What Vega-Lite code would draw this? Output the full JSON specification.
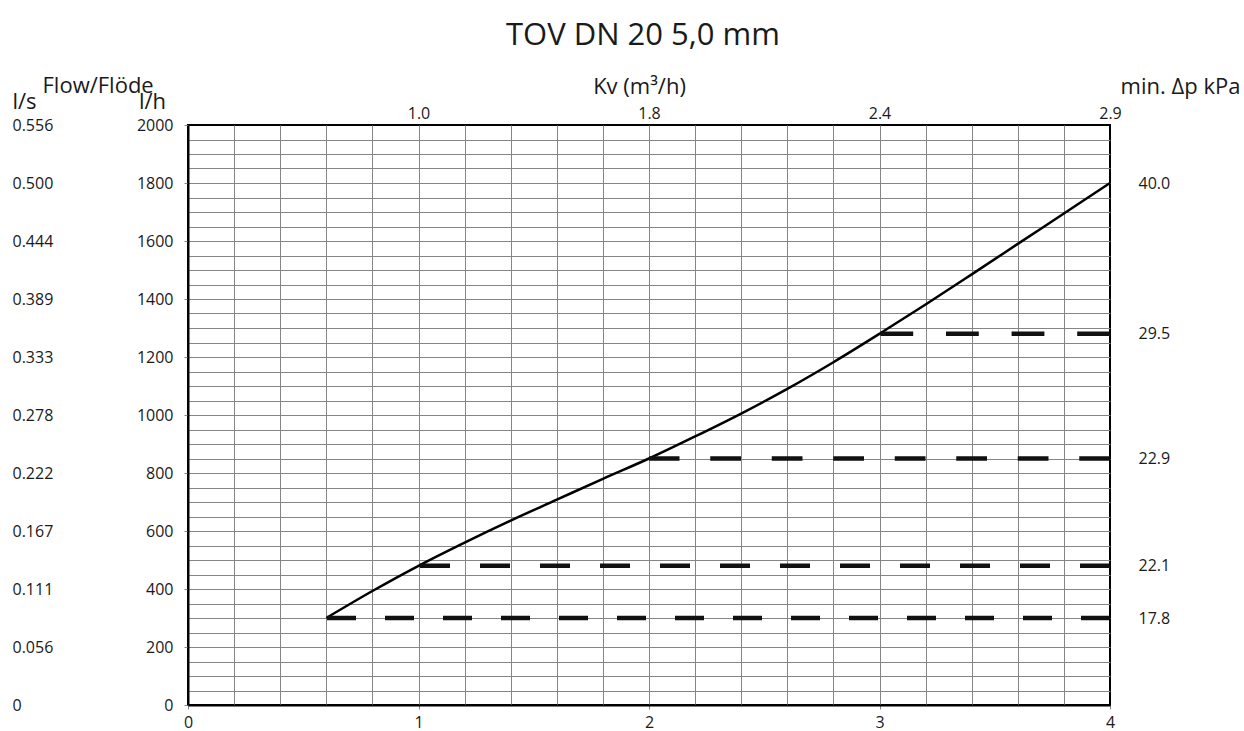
{
  "$schema": "https://vega.github.io/schema/vega-lite/v6.json",
  "width": 922,
  "height": 580,
  "autosize": {"type": "none"},
  "padding": {"left": 188, "top": 125, "right": 134, "bottom": 26},
  "background": "white",
  "title": {"text": "TOV DN 20 5,0 mm", "fontSize": 31, "font": "Open Sans", "fontWeight": "normal", "color": "#1a1a1a", "anchor": "middle", "dx": -6, "offset": 22},
  "datasets": {
    "curve": [
      {"q": 0.6, "flow": 300},
      {"q": 0.8, "flow": 393},
      {"q": 1.0, "flow": 480},
      {"q": 1.2, "flow": 560},
      {"q": 1.4, "flow": 636},
      {"q": 1.6, "flow": 708},
      {"q": 1.8, "flow": 780},
      {"q": 2.0, "flow": 850},
      {"q": 2.2, "flow": 926},
      {"q": 2.4, "flow": 1005},
      {"q": 2.6, "flow": 1090},
      {"q": 2.8, "flow": 1182},
      {"q": 3.0, "flow": 1280},
      {"q": 3.2, "flow": 1381},
      {"q": 3.4, "flow": 1485},
      {"q": 3.6, "flow": 1590},
      {"q": 3.8, "flow": 1695},
      {"q": 4.0, "flow": 1800}
    ],
    "dash": [
      {"flow": 300, "from": 0.6, "to": 4, "dp": 17.8},
      {"flow": 480, "from": 1.0, "to": 4, "dp": 22.1},
      {"flow": 850, "from": 2.0, "to": 4, "dp": 22.9},
      {"flow": 1280, "from": 3.0, "to": 4, "dp": 29.5}
    ]
  },
  "config": {
    "view": {"stroke": "#000000", "strokeWidth": 2},
    "axis": {
      "labelFont": "Open Sans",
      "labelFontSize": 16,
      "labelColor": "#1a1a1a",
      "titleFont": "Open Sans",
      "titleFontSize": 22,
      "titleFontWeight": "normal",
      "titleColor": "#1a1a1a",
      "labelOverlap": false,
      "labelFlush": false,
      "gridColor": "#858585",
      "gridWidth": 1,
      "gridOpacity": 1
    }
  },
  "layer": [
    {
      "data": {"name": "curve"},
      "mark": {"type": "point", "opacity": 0},
      "encoding": {
        "x": {"field": "q", "type": "quantitative", "scale": {"domain": [0, 4], "nice": false, "zero": false},
          "axis": {"orient": "bottom", "values": [0.2, 0.4, 0.6, 0.8, 1, 1.2, 1.4, 1.6, 1.8, 2, 2.2, 2.4, 2.6, 2.8, 3, 3.2, 3.4, 3.6, 3.8], "grid": true, "labels": false, "ticks": false, "tickSize": 0, "domain": false, "title": null}},
        "y": {"field": "flow", "type": "quantitative", "scale": {"domain": [0, 2000], "nice": false},
          "axis": {"orient": "left", "values": [50, 100, 150, 200, 250, 300, 350, 400, 450, 500, 550, 600, 650, 700, 750, 800, 850, 900, 950, 1000, 1050, 1100, 1150, 1200, 1250, 1300, 1350, 1400, 1450, 1500, 1550, 1600, 1650, 1700, 1750, 1800, 1850, 1900, 1950], "grid": true, "labels": false, "ticks": false, "tickSize": 0, "domain": false,
            "title": "Flow/Flöde", "titleAngle": 0, "titleX": -146, "titleY": -33, "titleAlign": "left", "titleBaseline": "alphabetic"}}
      }
    },
    {
      "data": {"name": "curve"},
      "mark": {"type": "line", "color": "#000000", "strokeWidth": 2.5, "interpolate": "monotone"},
      "encoding": {
        "x": {"field": "q", "type": "quantitative",
          "axis": {"orient": "bottom", "values": [0, 1, 2, 3, 4], "grid": false, "domainColor": "#000000", "domainWidth": 2, "tickColor": "#888888", "tickSize": 4, "labelPadding": 5, "title": null}},
        "y": {"field": "flow", "type": "quantitative",
          "axis": {"orient": "left", "values": [0, 200, 400, 600, 800, 1000, 1200, 1400, 1600, 1800, 2000], "format": "d", "grid": false, "domainColor": "#000000", "domainWidth": 2, "tickColor": "#888888", "tickSize": 4, "labelPadding": 11,
            "title": "l/h", "titleAngle": 0, "titleX": -36, "titleY": -17, "titleAlign": "center", "titleBaseline": "alphabetic"}}
      }
    },
    {
      "data": {"name": "dash"},
      "mark": {"type": "rule", "color": "#111111", "strokeWidth": 4.5},
      "encoding": {
        "x": {"field": "to", "type": "quantitative",
          "axis": {"orient": "top", "values": [1, 2, 3, 4], "grid": false, "ticks": false, "tickSize": 0, "domain": false, "labelPadding": 4,
            "labelExpr": "datum.value == 1 ? '1.0' : datum.value == 2 ? '1.8' : datum.value == 3 ? '2.4' : '2.9'",
            "title": "Kv (m³/h)", "titleAngle": 0, "titleX": 451, "titleY": -32, "titleAlign": "center", "titleBaseline": "alphabetic"}},
        "x2": {"field": "from"},
        "y": {"field": "flow", "type": "quantitative",
          "axis": {"orient": "right", "values": [300, 480, 850, 1280, 1800], "grid": false, "ticks": false, "tickSize": 0, "domain": false, "labelPadding": 28,
            "labelExpr": "datum.value == 300 ? '17.8' : datum.value == 480 ? '22.1' : datum.value == 850 ? '22.9' : datum.value == 1280 ? '29.5' : '40.0'",
            "title": "min. Δp kPa", "titleAngle": 0, "titleX": 70, "titleY": -32, "titleAlign": "center", "titleBaseline": "alphabetic"}},
        "strokeDash": {"field": "flow", "type": "nominal", "legend": null,
          "scale": {"domain": [300, 480, 850, 1280], "range": [[29, 29], [30, 30], [30.75, 30.75], [32.8, 32.8]]}}
      }
    },
    {
      "data": {"name": "curve"},
      "mark": {"type": "point", "opacity": 0},
      "encoding": {
        "x": {"field": "q", "type": "quantitative", "axis": null},
        "y": {"field": "flow", "type": "quantitative",
          "axis": {"orient": "left", "offset": 176, "values": [0, 200, 400, 600, 800, 1000, 1200, 1400, 1600, 1800, 2000], "grid": false, "ticks": false, "tickSize": 0, "domain": false, "labelPadding": 0, "labelAlign": "left",
            "labelExpr": "datum.value == 0 ? '0' : format(datum.value / 3600, '.3f')",
            "title": "l/s", "titleAngle": 0, "titleX": 0, "titleY": -17, "titleAlign": "left", "titleBaseline": "alphabetic"}}
      }
    }
  ],
  "resolve": {"axis": {"x": "independent", "y": "independent"}}
}
